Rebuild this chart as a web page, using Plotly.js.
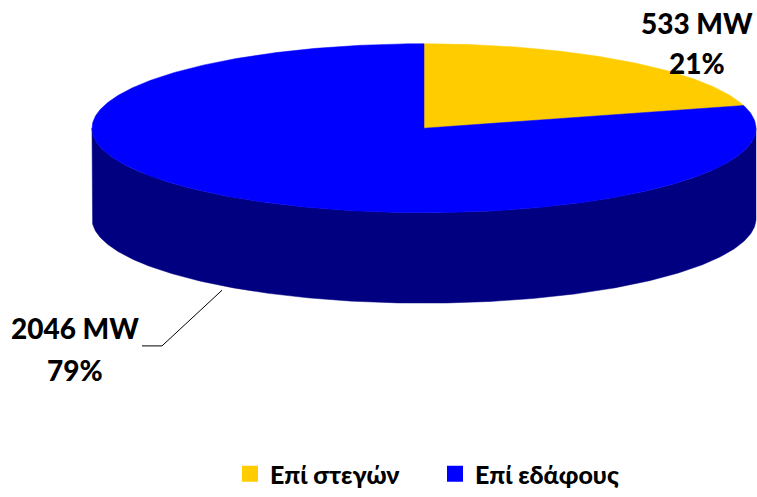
<!DOCTYPE html>
<html>
<head>
<meta charset="utf-8">
<script src="https://cdn.plot.ly/plotly-3.0.1.min.js"></script>
<style>html,body{margin:0;padding:0;background:#fff;}#chart{width:757px;height:497px;}</style>
</head>
<body>
<div id="chart"></div>
<script>
// ---- data ----
const categories = ['Επί στεγών', 'Επί εδάφους'];
const valuesMW = [533, 2046];
const unit = 'MW';

// ---- style ----
const topColors = ['#FFCC00', '#0000FF'];
const sideColors = ['#806600', '#000080'];
const FONT = 'Lato, "Noto Sans", "Open Sans", sans-serif';

// 3D pie geometry (pixel space, y down)
const cx = 424, cy = 129, rx = 332, ry = 85, depth = 91;

const total = valuesMW.reduce((a, b) => a + b, 0);
function pt(deg, dy) {
  const r = deg * Math.PI / 180;
  return [cx + rx * Math.sin(r), cy - ry * Math.cos(r) + (dy || 0)];
}
function arc(a0, a1, dy) {
  const n = Math.max(2, Math.ceil(Math.abs(a1 - a0) / 0.5));
  const out = [];
  for (let i = 0; i <= n; i++) out.push(pt(a0 + (a1 - a0) * i / n, dy));
  return out;
}

const traces = [];
const sideTraces = [];
const topTraces = [];
let start = 0;
valuesMW.forEach((v, i) => {
  const sweep = v / total * 360;
  const a0 = start, a1 = start + sweep;
  const s0 = Math.max(a0, 90), s1 = Math.min(a1, 270);
  if (s1 > s0) {
    const poly = arc(s0, s1, 0).concat(arc(s1, s0, depth));
    poly.push(poly[0]);
    sideTraces.push({
      type: 'scatter', mode: 'lines', fill: 'toself',
      x: poly.map(p => p[0]), y: poly.map(p => p[1]),
      fillcolor: sideColors[i], line: {color: sideColors[i], width: 0.5},
      hoverinfo: 'skip', showlegend: false
    });
  }
  const topPoly = [[cx, cy]].concat(arc(a0, a1, 0));
  topPoly.push([cx, cy]);
  topTraces.push({
    type: 'scatter', mode: 'lines', fill: 'toself',
    x: topPoly.map(p => p[0]), y: topPoly.map(p => p[1]),
    fillcolor: topColors[i], line: {color: topColors[i], width: 0.5},
    hoverinfo: 'skip', showlegend: false
  });
  start = a1;
});
traces.push(...sideTraces, ...topTraces);

categories.forEach((c, i) => {
  traces.push({
    type: 'scatter', mode: 'markers', x: [null], y: [null], name: c,
    marker: {symbol: 'square', size: 20, color: topColors[i]},
    showlegend: true, hoverinfo: 'skip'
  });
});

const labelPos = [[697, 23, 63], [75, 330, 372]];
const annotations = [];
valuesMW.forEach((v, i) => {
  const pct = Math.round(v / total * 100) + '%';
  const [lx, ly1, ly2] = labelPos[i];
  annotations.push({x: lx, y: ly1, xref: 'x', yref: 'y', text: v + ' ' + unit, showarrow: false,
    font: {family: FONT, size: 28, color: '#000', weight: 900}, xanchor: 'center', yanchor: 'middle'});
  annotations.push({x: lx, y: ly2, xref: 'x', yref: 'y', text: pct, showarrow: false,
    font: {family: FONT, size: 28, color: '#000', weight: 900}, xanchor: 'center', yanchor: 'middle'});
});

const layout = {
  width: 757, height: 497,
  margin: {l: 0, r: 0, t: 0, b: 0},
  paper_bgcolor: '#fff', plot_bgcolor: '#fff',
  xaxis: {range: [0, 757], visible: false, fixedrange: true},
  yaxis: {range: [497, 0], visible: false, fixedrange: true},
  showlegend: true,
  legend: {
    orientation: 'h', x: 230 / 757, xanchor: 'left', y: 1 - 477 / 497, yanchor: 'middle',
    font: {family: FONT, size: 25, color: '#000', weight: 900},
    bgcolor: 'rgba(0,0,0,0)', entrywidth: 160, entrywidthmode: 'pixels'
  },
  annotations: annotations,
  shapes: [{
    type: 'path', xref: 'x', yref: 'y',
    path: 'M142,348 L162,348 L222,292',
    line: {color: '#000', width: 1}
  }]
};

Plotly.newPlot('chart', traces, layout, {displayModeBar: false, staticPlot: true});
</script>
</body>
</html>
